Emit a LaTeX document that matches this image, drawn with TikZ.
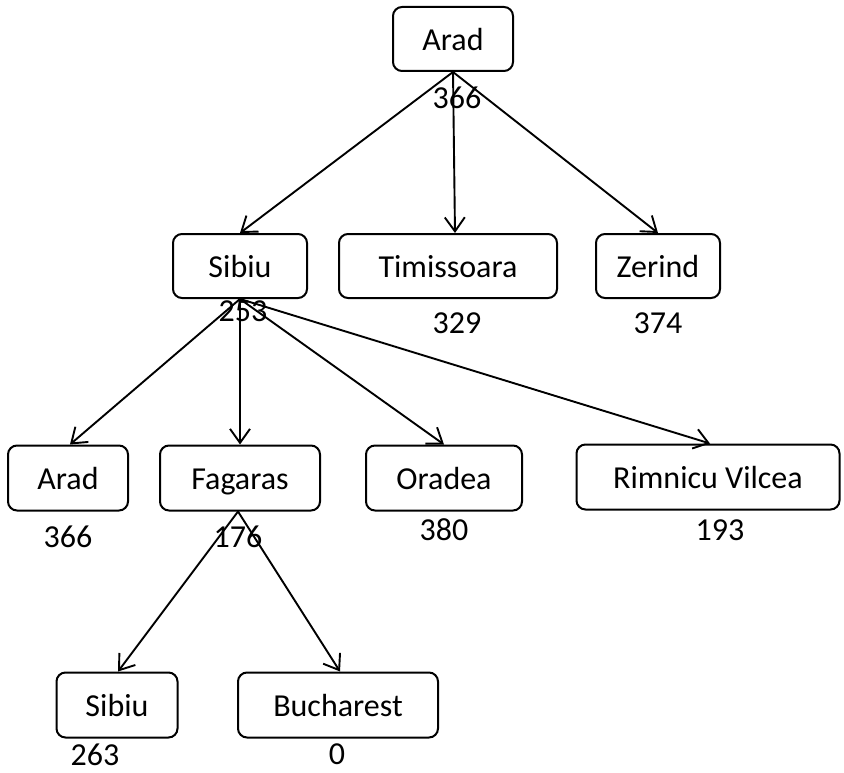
\documentclass[tikz,border=0pt]{standalone}
\usepackage{fontspec}
\setmainfont{Carlito}
\usetikzlibrary{arrows.meta}
\begin{document}
\begin{tikzpicture}[x=1pt,y=-1pt,
  city/.style={draw,rounded corners=9pt,line width=2pt,inner sep=0pt,minimum height=64pt,text height=26pt,text depth=3pt,font=\fontsize{32}{36}\selectfont},
  cost/.style={inner sep=0pt,font=\fontsize{32}{36}\selectfont},
  edge/.style={line width=1.9pt,-{Straight Barb[length=14pt,width=20pt,line width=1.9pt]}}]
\useasboundingbox (0,0) rectangle (844,773);
\node[city,minimum width=120pt] (arad) at (453,39) {Arad};
\node[city,minimum width=134pt] (sibiu) at (240,266) {Sibiu};
\node[city,minimum width=218pt] (timi) at (448,266) {Timissoara};
\node[city,minimum width=124pt] (zerind) at (658,266) {Zerind};
\node[city,minimum width=120pt,minimum height=65pt] (arad2) at (68,478) {Arad};
\node[city,minimum width=160pt,minimum height=65pt] (fag) at (240,478) {Fagaras};
\node[city,minimum width=156pt,minimum height=65pt] (ora) at (444,478) {Oradea};
\node[city,minimum width=263pt,minimum height=65pt] (rim) at (708,477) {Rimnicu Vilcea};
\node[city,minimum width=121pt,minimum height=65pt] (sibiu2) at (117,705) {Sibiu};
\node[city,minimum width=200pt,minimum height=65pt] (buch) at (338,705) {Bucharest};
\node[cost] (c1) at (457,98) {366};
\node[cost] (c2) at (243,311) {253};
\node[cost] (c3) at (457,323) {329};
\node[cost] (c4) at (658,323) {374};
\node[cost] (c5) at (68,537) {366};
\node[cost] (c6) at (238,537) {176};
\node[cost] (c7) at (444,530) {380};
\node[cost] (c8) at (720,530) {193};
\node[cost] (c9) at (95,755) {263};
\node[cost] (c10) at (337,754) {0};
\draw[edge] (arad.south) -- (sibiu.north);
\draw[edge] (arad.south) -- ([xshift=7pt]timi.north);
\draw[edge] (arad.south) -- (zerind.north);
\draw[edge] (sibiu.south) -- ([xshift=2pt]arad2.north);
\draw[edge] (sibiu.south) -- (fag.north);
\draw[edge] (sibiu.south) -- (ora.north);
\draw[edge] (sibiu.south) -- ([xshift=2pt]rim.north);
\draw[edge] ([xshift=-2pt]fag.south) -- ([xshift=1pt]sibiu2.north);
\draw[edge] ([xshift=-2pt]fag.south) -- ([xshift=2pt]buch.north);
\end{tikzpicture}
\end{document}
